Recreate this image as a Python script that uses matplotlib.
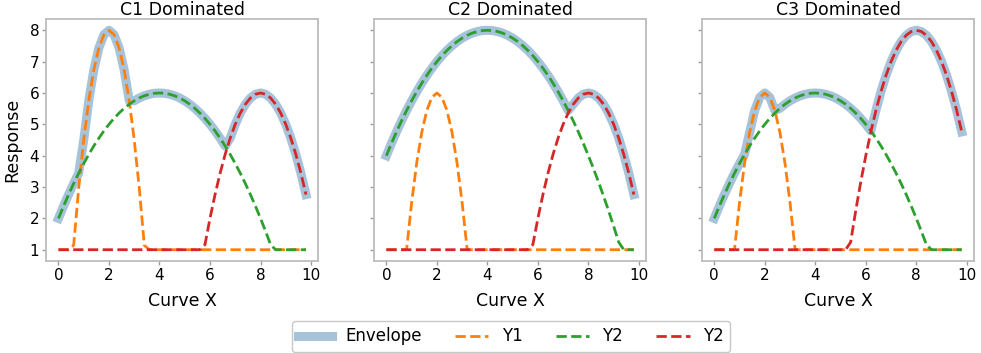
import numpy as np
import matplotlib
matplotlib.use("Agg")
import matplotlib.pyplot as plt

# sample grid used by every curve
x = np.round(np.arange(0, 9.81, 0.2), 1)

titles = ["C1 Dominated", "C2 Dominated", "C3 Dominated"]
legend_labels = ["Envelope", "Y1", "Y2", "Y2"]

# --- values (one entry per x step of 0.2) ---
c1_y1 = [1, 1, 1, 1.14, 2.96, 4.5, 5.76, 6.74, 7.44, 7.86,
         8, 7.86, 7.44, 6.74, 5.76, 4.5, 2.96, 1.14, 1, 1,
         1, 1, 1, 1, 1, 1, 1, 1, 1, 1,
         1, 1, 1, 1, 1, 1, 1, 1, 1, 1,
         1, 1, 1, 1, 1, 1, 1, 1, 1, 1]
c1_y2 = [2, 2.39, 2.76, 3.11, 3.44, 3.75, 4.04, 4.31, 4.56, 4.79,
         5, 5.19, 5.36, 5.51, 5.64, 5.75, 5.84, 5.91, 5.96, 5.99,
         6, 5.99, 5.96, 5.91, 5.84, 5.75, 5.64, 5.51, 5.36, 5.19,
         5, 4.79, 4.56, 4.31, 4.04, 3.75, 3.44, 3.11, 2.76, 2.39,
         2, 1.59, 1.16, 1, 1, 1, 1, 1, 1, 1]
c1_y3 = [1, 1, 1, 1, 1, 1, 1, 1, 1, 1,
         1, 1, 1, 1, 1, 1, 1, 1, 1, 1,
         1, 1, 1, 1, 1, 1, 1, 1, 1, 1.16,
         2, 2.76, 3.44, 4.04, 4.56, 5, 5.36, 5.64, 5.84, 5.96,
         6, 5.96, 5.84, 5.64, 5.36, 5, 4.56, 4.04, 3.44, 2.76]

c2_y1 = [1, 1, 1, 1, 1, 2.5, 3.76, 4.74, 5.44, 5.86,
         6, 5.86, 5.44, 4.74, 3.76, 2.5, 1, 1, 1, 1,
         1, 1, 1, 1, 1, 1, 1, 1, 1, 1,
         1, 1, 1, 1, 1, 1, 1, 1, 1, 1,
         1, 1, 1, 1, 1, 1, 1, 1, 1, 1]
c2_y2 = [4, 4.39, 4.76, 5.11, 5.44, 5.75, 6.04, 6.31, 6.56, 6.79,
         7, 7.19, 7.36, 7.51, 7.64, 7.75, 7.84, 7.91, 7.96, 7.99,
         8, 7.99, 7.96, 7.91, 7.84, 7.75, 7.64, 7.51, 7.36, 7.19,
         7, 6.79, 6.56, 6.31, 6.04, 5.75, 5.44, 5.11, 4.76, 4.39,
         4, 3.59, 3.16, 2.71, 2.24, 1.75, 1.24, 1, 1, 1]
c2_y3 = [1, 1, 1, 1, 1, 1, 1, 1, 1, 1,
         1, 1, 1, 1, 1, 1, 1, 1, 1, 1,
         1, 1, 1, 1, 1, 1, 1, 1, 1, 1.16,
         2, 2.76, 3.44, 4.04, 4.56, 5, 5.36, 5.64, 5.84, 5.96,
         6, 5.96, 5.84, 5.64, 5.36, 5, 4.56, 4.04, 3.44, 2.76]

c3_y1 = [1, 1, 1, 1, 1, 2.5, 3.76, 4.74, 5.44, 5.86,
         6, 5.86, 5.44, 4.74, 3.76, 2.5, 1, 1, 1, 1,
         1, 1, 1, 1, 1, 1, 1, 1, 1, 1,
         1, 1, 1, 1, 1, 1, 1, 1, 1, 1,
         1, 1, 1, 1, 1, 1, 1, 1, 1, 1]
c3_y2 = [2, 2.39, 2.76, 3.11, 3.44, 3.75, 4.04, 4.31, 4.56, 4.79,
         5, 5.19, 5.36, 5.51, 5.64, 5.75, 5.84, 5.91, 5.96, 5.99,
         6, 5.99, 5.96, 5.91, 5.84, 5.75, 5.64, 5.51, 5.36, 5.19,
         5, 4.79, 4.56, 4.31, 4.04, 3.75, 3.44, 3.11, 2.76, 2.39,
         2, 1.59, 1.16, 1, 1, 1, 1, 1, 1, 1]
c3_y3 = [1, 1, 1, 1, 1, 1, 1, 1, 1, 1,
         1, 1, 1, 1, 1, 1, 1, 1, 1, 1,
         1, 1, 1, 1, 1, 1, 1, 1.24, 2.24, 3.16,
         4, 4.76, 5.44, 6.04, 6.56, 7, 7.36, 7.64, 7.84, 7.96,
         8, 7.96, 7.84, 7.64, 7.36, 7, 6.56, 6.04, 5.44, 4.76]

panels = [(c1_y1, c1_y2, c1_y3), (c2_y1, c2_y2, c2_y3), (c3_y1, c3_y2, c3_y3)]

env_color = '#a6c3da'
line_colors = ['#ff7f0e', '#2ca02c', '#d62728']
spine_color = '#bdbdbd'

fig, axes = plt.subplots(1, 3, figsize=(9.81, 3.53), dpi=100, sharey=True)
fig.subplots_adjust(left=0.047, right=0.993, bottom=0.2615, top=0.9453, wspace=0.2045)

for ax, title, curves in zip(axes, titles, panels):
    envelope = np.max(np.array(curves), axis=0)
    ax.plot(x, envelope, color=env_color, lw=6.5, zorder=1, label=legend_labels[0])
    for ys, c, lab in zip(curves, line_colors, legend_labels[1:]):
        ax.plot(x, ys, color=c, lw=2, ls='--', zorder=2, label=lab)

    ax.set_title(title, fontsize=12.5, pad=1.5)
    ax.set_xlabel('Curve X', fontsize=12.5, labelpad=7)
    ax.set_xticks([0, 2, 4, 6, 8, 10])
    ax.set_yticks(range(1, 9))
    for sp in ax.spines.values():
        sp.set_color(spine_color)
        sp.set_linewidth(1.3)
    ax.tick_params(labelsize=11, colors='#999999', labelcolor='black', length=3, width=1, pad=2)

axes[0].set_ylabel('Response', fontsize=12.5, labelpad=6)

handles, labels = axes[0].get_legend_handles_labels()
fig.legend(handles, labels, loc='upper center', bbox_to_anchor=(0.521, 0.0915),
           ncol=4, fontsize=12, borderaxespad=0, edgecolor='#bbbbbb')

fig.savefig('out.png', dpi=100)
